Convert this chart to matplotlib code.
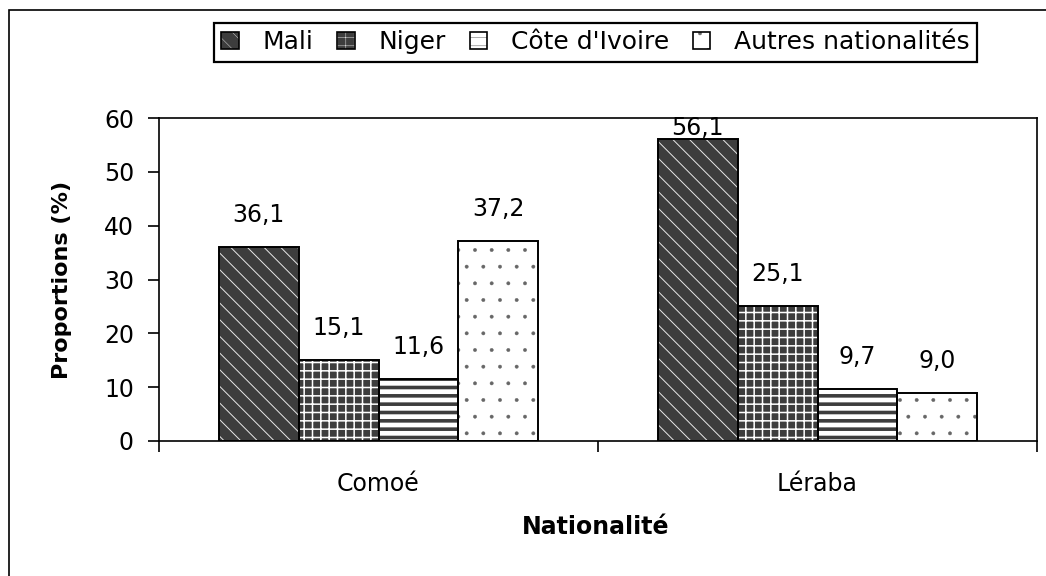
import numpy as np
import matplotlib
matplotlib.use('Agg')
import matplotlib.pyplot as plt
from matplotlib.patches import Patch, Rectangle
from matplotlib.legend_handler import HandlerTuple

# données
regions = ['Comoé', 'Léraba']
nationalites = ['Mali', 'Niger', "Côte d'Ivoire", 'Autres nationalités']
mali = [36.1, 56.1]
niger = [15.1, 25.1]
cote_ivoire = [11.6, 9.7]
autres = [37.2, 9.0]
series = [mali, niger, cote_ivoire, autres]

# style des barres : fond, couleur de la hachure, motif, épaisseur
styles = [
    ('#3d3d3d', '#e8e8e8', '\\\\', 0.7),
    ('#3d3d3d', 'white', '++', 1.1),
    ('white', '#3d3d3d', '--', 2.6),
    ('white', '#666666', '.', 0.3),
]

plt.rcParams['font.family'] = ['DejaVu Sans']

fig = plt.figure(figsize=(10.46, 5.76), dpi=100)
ax = fig.add_axes([159 / 1046, 1 - 441 / 576, 878 / 1046, 323 / 576])

x = np.arange(len(regions))
w = 0.182
offsets = (np.arange(4) - 1.5) * w

for vals, off, (fc, hc, hatch, hlw) in zip(series, offsets, styles):
    plt.rcParams['hatch.linewidth'] = hlw
    ax.bar(x + off, vals, width=w, color=fc, edgecolor=hc, hatch=hatch, linewidth=0, zorder=2)
    ax.bar(x + off, vals, width=w, fill=False, edgecolor='black', linewidth=1.4, zorder=3)
    for xi, v in zip(x + off, vals):
        dy = 23 if v < 50 else 8
        ax.annotate(f'{v:.1f}'.replace('.', ','), (xi, v), xytext=(0, dy),
                    textcoords='offset points', ha='center', va='center', fontsize=17)

ax.set_xlim(-0.5, 1.5)
ax.set_ylim(0, 60)
ax.set_yticks(range(0, 61, 10))
ax.set_xticks(x)
ax.set_xticklabels(regions)
ax.set_xticks([-0.5, 0.5, 1.5], minor=True)
ax.tick_params(axis='x', which='major', length=0, pad=22, labelsize=17)
ax.tick_params(axis='x', which='minor', length=8, width=1.2, direction='out')
ax.tick_params(axis='y', length=8, width=1.2, pad=10, labelsize=17)
for sp in ax.spines.values():
    sp.set_linewidth(1.2)

ax.set_ylabel('Proportions (%)', fontsize=16, fontweight='bold', va='center')
ax.yaxis.set_label_coords(-0.1105, 0.5)
ax.set_xlabel('Nationalité', fontsize=17, fontweight='bold', va='center')
ax.xaxis.set_label_coords(0.497, -0.266)

handles = []
for fc, hc, hatch, hlw in styles:
    plt.rcParams['hatch.linewidth'] = min(hlw, 1.0)
    handles.append((Patch(facecolor=fc, edgecolor=hc, hatch=hatch, linewidth=0),
                    Patch(fill=False, edgecolor='black', linewidth=1.2)))
leg = fig.legend(handles, nationalites, loc='center', bbox_to_anchor=(595.5 / 1046, 1 - 42 / 576),
                 ncol=4, fontsize=18, handlelength=0.7, handleheight=0.7, handletextpad=0.95,
                 columnspacing=0.95, borderpad=0.3, borderaxespad=0, fancybox=False, framealpha=1,
                 handler_map={tuple: HandlerTuple(ndivide=1, pad=0)})
leg.get_frame().set_edgecolor('black')
leg.get_frame().set_linewidth(1.6)

# cadre extérieur
fig.patches.append(Rectangle((9 / 1046, -0.1), 1.2, 1 - 10 / 576 + 0.1, transform=fig.transFigure,
                             fill=False, edgecolor='black', linewidth=1.2))

plt.savefig('out.png', dpi=100)
